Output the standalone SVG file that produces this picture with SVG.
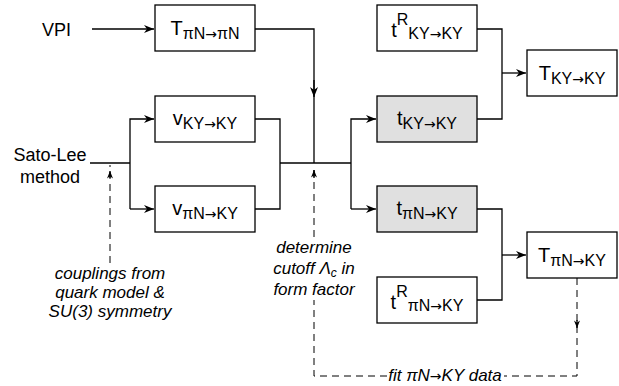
<svg xmlns="http://www.w3.org/2000/svg" width="619" height="386" viewBox="0 0 619 386">
<style>
.box{fill:#fff;stroke:#000;stroke-width:1.3}
.gray{fill:#e0e0e0}
.lbl{font-family:"Liberation Sans",Arial,sans-serif;font-size:20px;fill:#000;text-anchor:middle}
.sub{font-size:16px}
.ar{font-family:"DejaVu Sans",sans-serif;font-size:14px}
.txt{font-family:"Liberation Sans",Arial,sans-serif;font-size:18px;fill:#000}
.it{font-family:"Liberation Sans",Arial,sans-serif;font-size:17px;font-style:italic;fill:#000;text-anchor:middle}
.ln{fill:none;stroke:#000;stroke-width:1.3}
.da{fill:none;stroke:#000;stroke-width:1;stroke-dasharray:7,5}
</style>
<defs>
<marker id="ah" viewBox="0 0 10 8" refX="10" refY="4" markerWidth="10" markerHeight="8" markerUnits="userSpaceOnUse" orient="auto">
<path d="M0,0 L10,4 L0,8 L3,4 z" fill="#000"/>
</marker>
<marker id="ahs" viewBox="0 0 10 8" refX="10" refY="4" markerWidth="8" markerHeight="6" markerUnits="userSpaceOnUse" orient="auto">
<path d="M0,0 L10,4 L0,8 L3,4 z" fill="#000"/>
</marker>
</defs>

<g id="connectors">
<path class="ln" d="M92,29 H154" marker-end="url(#ah)"/>
<path class="ln" d="M255,29 H314 V163"/>
<path class="ln" d="M314,80 V97" marker-end="url(#ah)"/>
<path class="ln" d="M90,163 H130"/>
<path class="ln" d="M130,209 V119 H154" marker-end="url(#ah)"/>
<path class="ln" d="M130,209 H154" marker-end="url(#ah)"/>
<path class="ln" d="M255,119 H280 V209 H255"/>
<path class="ln" d="M280,163 H351"/>
<path class="ln" d="M351,209 V119 H376" marker-end="url(#ah)"/>
<path class="ln" d="M351,209 H376" marker-end="url(#ah)"/>
<path class="ln" d="M477,29 H502 V119 H477"/>
<path class="ln" d="M502,73 H526" marker-end="url(#ah)"/>
<path class="ln" d="M477,209 H502 V300 H477"/>
<path class="ln" d="M502,255 H526" marker-end="url(#ah)"/>
<path class="da" d="M110,263 V165"/>
<path class="ln" d="M110,178 V171" marker-end="url(#ahs)"/>
<path class="da" d="M314,237 V166"/>
<path class="ln" d="M314,178 V170" marker-end="url(#ahs)"/>
<path class="da" d="M577,278 V376 H314 V300"/>
<path class="ln" d="M577,320 V328" marker-end="url(#ahs)"/>
</g>

<g id="vpi"><text class="txt" x="42" y="36">VPI</text></g>
<g id="satolee">
<text class="txt" x="50" y="161" text-anchor="middle">Sato-Lee</text>
<text class="txt" x="50" y="183" text-anchor="middle">method</text>
</g>

<g id="T_piN_piN">
<rect class="box" x="155" y="5" width="100" height="46"/>
<text class="lbl" x="205" y="35">T<tspan class="sub" dy="4">πN<tspan class="ar">→</tspan>πN</tspan></text>
</g>
<g id="v_KY_KY">
<rect class="box" x="155" y="96" width="100" height="46"/>
<text class="lbl" x="205" y="125">v<tspan class="sub" dy="4">KY<tspan class="ar">→</tspan>KY</tspan></text>
</g>
<g id="v_piN_KY">
<rect class="box" x="155" y="186" width="100" height="46"/>
<text class="lbl" x="205" y="215">v<tspan class="sub" dy="4">πN<tspan class="ar">→</tspan>KY</tspan></text>
</g>
<g id="tR_KY_KY">
<rect class="box" x="377" y="5" width="100" height="46"/>
<text class="lbl" x="427" y="37">t<tspan class="sub" dy="-12">R</tspan><tspan class="sub" dy="14">KY<tspan class="ar">→</tspan>KY</tspan></text>
</g>
<g id="t_KY_KY">
<rect class="box gray" x="377" y="96" width="100" height="46"/>
<text class="lbl" x="427" y="125">t<tspan class="sub" dy="4">KY<tspan class="ar">→</tspan>KY</tspan></text>
</g>
<g id="t_piN_KY">
<rect class="box gray" x="377" y="186" width="100" height="46"/>
<text class="lbl" x="427" y="215">t<tspan class="sub" dy="4">πN<tspan class="ar">→</tspan>KY</tspan></text>
</g>
<g id="tR_piN_KY">
<rect class="box" x="377" y="277" width="100" height="46"/>
<text class="lbl" x="427" y="309">t<tspan class="sub" dy="-12">R</tspan><tspan class="sub" dy="14">πN<tspan class="ar">→</tspan>KY</tspan></text>
</g>
<g id="T_KY_KY">
<rect class="box" x="527" y="50" width="90" height="46"/>
<text class="lbl" x="572" y="80">T<tspan class="sub" dy="4">KY<tspan class="ar">→</tspan>KY</tspan></text>
</g>
<g id="T_piN_KY">
<rect class="box" x="527" y="232" width="90" height="46"/>
<text class="lbl" x="572" y="262">T<tspan class="sub" dy="4">πN<tspan class="ar">→</tspan>KY</tspan></text>
</g>

<g id="notes">
<text class="it" x="110" y="279">couplings from</text>
<text class="it" x="110" y="298">quark model &amp;</text>
<text class="it" x="110" y="317">SU(3) symmetry</text>
<text class="it" x="314" y="253">determine</text>
<text class="it" x="314" y="274">cutoff Λ<tspan font-size="12" dy="3">c</tspan><tspan dy="-3"> in</tspan></text>
<text class="it" x="314" y="295">form factor</text>
<rect x="388" y="367" width="116" height="16" fill="#fff"/>
<text class="it" x="445" y="381">fit πN<tspan font-family="DejaVu Sans" font-style="normal" font-size="14">→</tspan>KY data</text>
</g>
</svg>
